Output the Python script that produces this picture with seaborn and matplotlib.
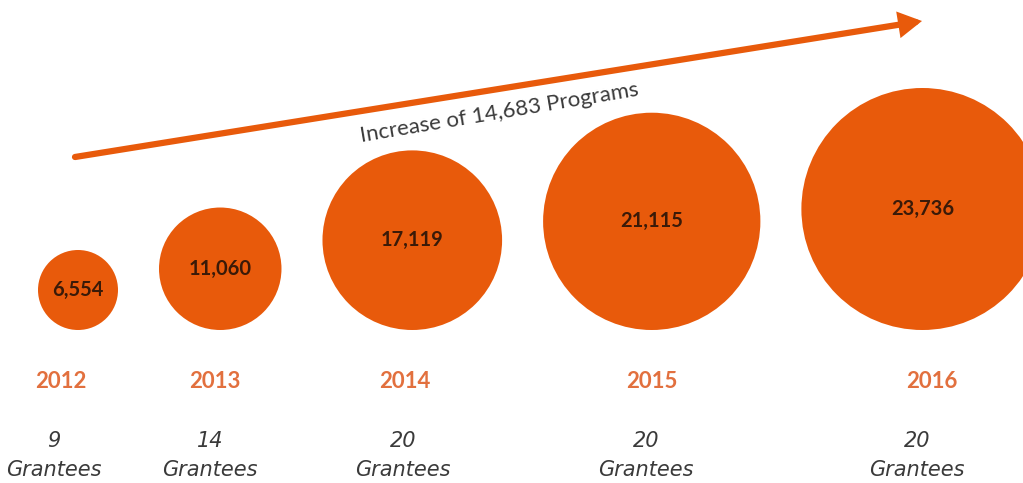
import numpy as np
import pandas as pd
import matplotlib
matplotlib.use("Agg")
import matplotlib.pyplot as plt
import seaborn as sns

# Data
years = ["2012", "2013", "2014", "2015", "2016"]
programs = [6554, 11060, 17119, 21115, 23736]
grantees = [9, 14, 20, 20, 20]
trend_label = "Increase of 14,683 Programs"

# Styling / layout
ORANGE = "#E85A0B"
YEAR_COLOR = "#E2703E"
VALUE_COLOR = "#3A1A08"
GRAY = "#3A3A3A"
W, H, DPI = 1023, 483, 100

R_MIN, R_MAX = 40, 121          # bubble radius range (px)
GAP = 41                        # spacing between bubble edges (px)
BASELINE = 330                  # common bottom of the bubbles (px)
FIRST_LEFT = 38
year_x = [61, 215, 405, 652, 932]
grantee_x = [54, 210, 403, 646, 917]

sns.set_theme(style="white")
plt.rcParams["font.family"] = ["Lato", "DejaVu Sans"]

# bubble radius grows linearly with program count
radius = np.interp(programs, [min(programs), max(programs)], [R_MIN, R_MAX])
cx = []
left = FIRST_LEFT
for r in radius:
    cx.append(left + r)
    left += 2 * r + GAP
cy = BASELINE - radius

df = pd.DataFrame({"year": years, "programs": programs, "x": cx, "y": cy,
                   "r": radius})
# marker area in points^2 from pixel radius
px_to_pt = 72.0 / DPI
areas = {p: (2 * r * px_to_pt) ** 2 for p, r in zip(programs, radius)}

fig = plt.figure(figsize=(W / DPI, H / DPI), dpi=DPI)
ax = fig.add_axes([0, 0, 1, 1])
sns.scatterplot(data=df, x="x", y="y", size="programs", sizes=areas,
                color=ORANGE, linewidth=0, legend=False, ax=ax, alpha=1)
ax.set_xlim(0, W)
ax.set_ylim(H, 0)
ax.set_axis_off()

for x, y, v in zip(cx, cy, programs):
    ax.text(x, y, f"{v:,}", ha="center", va="center", fontsize=14.5,
            fontweight="bold", color=VALUE_COLOR)

for x, yr in zip(year_x, years):
    ax.text(x, 381, yr, ha="center", va="center", fontsize=16,
            fontweight="bold", color=YEAR_COLOR)

for x, g in zip(grantee_x, grantees):
    ax.text(x, 441, str(g), ha="center", va="center", fontsize=15,
            style="italic", color=GRAY, family="DejaVu Sans")
    ax.text(x, 470, "Grantees", ha="center", va="center", fontsize=15,
            style="italic", color=GRAY, family="DejaVu Sans")

# trend arrow
start, tip = (75, 157), (922, 21)
ax.annotate("", xy=tip, xytext=start,
            arrowprops=dict(arrowstyle="-|>,head_length=0.8,head_width=0.45",
                            lw=4.5, color=ORANGE, mutation_scale=13,
                            shrinkA=0, shrinkB=0, joinstyle="miter"))
ax.text(499, 113, trend_label, ha="center",
        va="center", rotation=9.5, rotation_mode="anchor", fontsize=16,
        color=GRAY)

fig.savefig("out.png", dpi=DPI, facecolor="white")
